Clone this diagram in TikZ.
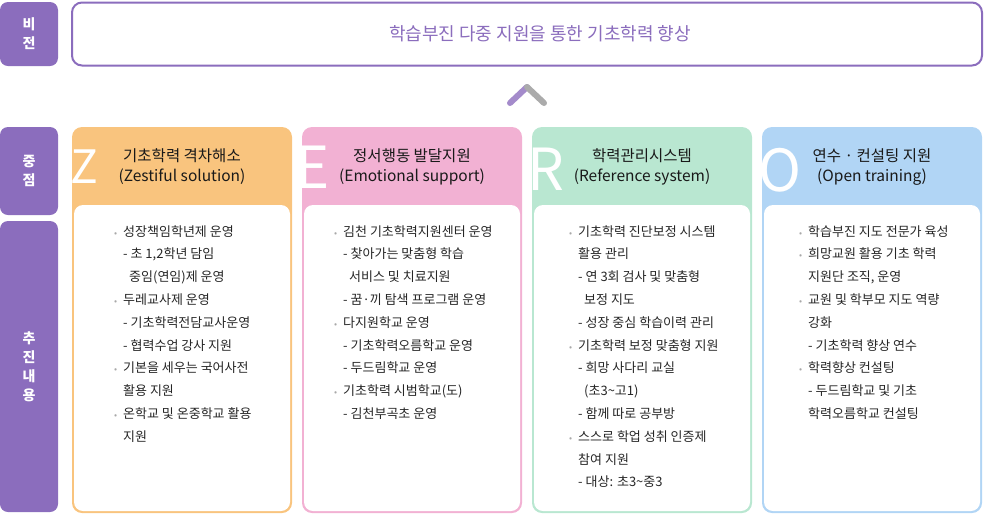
\documentclass[tikz,border=0pt]{standalone}
\usepackage{fontspec}
\setmainfont{Noto Sans CJK KR}

\definecolor{vpurple}{HTML}{8B6DBD}
\definecolor{zorange}{HTML}{F9C47E}
\definecolor{epink}{HTML}{F2B1D3}
\definecolor{rgreen}{HTML}{B9E7D1}
\definecolor{oblue}{HTML}{B1D5F5}
\definecolor{txtgray}{HTML}{262626}
\definecolor{dotgray}{HTML}{A8A8A8}
\definecolor{chevpurple}{HTML}{A48BCB}
\definecolor{chevgray}{HTML}{ABABAB}

\newcommand{\itemdot}{\makebox[0pt][r]{\textcolor{dotgray}{\fontsize{9}{9}\selectfont •}\hspace{6pt}}}
\newcommand{\moreline}{\hspace*{6pt}}

\tikzset{
    labelbox/.style={fill=vpurple, rounded corners=8pt, minimum width=58pt, inner sep=0pt,
        text=white, align=center, font=\fontsize{14}{19}\selectfont\bfseries},
    visionbox/.style={draw=vpurple, line width=2pt, fill=white, rounded corners=10pt, inner sep=0pt},
    visiontext/.style={text=vpurple, font=\fontsize{18}{20}\selectfont, inner sep=0pt},
    chevron/.style={line width=6pt, line cap=round},
    colframe/.style={rounded corners=10pt, minimum width=220pt, minimum height=386pt, inner sep=0pt},
    colbody/.style={fill=white, rounded corners=9pt, minimum width=216pt, minimum height=306pt, inner sep=0pt},
    headline/.style={align=center, text=black!90, font=\fontsize{15.5}{20}\selectfont, inner sep=0pt},
    bigchar/.style={anchor=base west, text=white, inner sep=0pt},
    itemlist/.style={anchor=north west, align=left, inner sep=0pt, text=txtgray,
        font=\fontsize{13}{22.8}\selectfont}
}

\begin{document}
\begin{tikzpicture}[x=1pt, y=-1pt]
    \useasboundingbox (0,0) rectangle (984,515);

    % labels on the left
    \node[labelbox, minimum height=64pt] (vlab) at (29,34) {비\\전};
    \node[labelbox, minimum height=88pt] (flab) at (29,171) {중\\점};
    \node[labelbox, minimum height=291pt] (plab) at (29,366.5) {추\\진\\내\\용};

    % vision
    \node[visionbox, minimum width=910pt, minimum height=63pt] (vision) at (527,34) {};
    \node[visiontext] (vtext) at (540,34) {학습부진 다중 지원을 통한 기초학력 향상};

    \coordinate (chevl) at (510,103);
    \coordinate (chevt) at (527,87);
    \coordinate (chevr) at (544,103);
    \draw[chevron, draw=chevpurple] (chevl) -- (chevt);
    \draw[chevron, draw=chevgray] (chevt) -- (chevr);

    % columns
    \node[colframe, fill=zorange] (zcol) at (182,320) {};
    \node[colframe, fill=epink] (ecol) at (412,320) {};
    \node[colframe, fill=rgreen] (rcol) at (642,320) {};
    \node[colframe, fill=oblue] (ocol) at (872,320) {};

    \node[colbody] (zbody) at (182,358) {};
    \node[colbody] (ebody) at (412,358) {};
    \node[colbody] (rbody) at (642,358) {};
    \node[colbody] (obody) at (872,358) {};

    % big letters
    \begin{scope}
        \clip (72,127) rectangle (292,205);
        \node[bigchar, font=\fontsize{46}{46}\selectfont] (zlet) at (70,183) {Z};
    \end{scope}
    \begin{scope}
        \clip (302,127) rectangle (522,205);
        \node[bigchar, font=\fontsize{58}{58}\selectfont] (elet) at (295,188) {E};
    \end{scope}
    \begin{scope}
        \clip (532,127) rectangle (752,205);
        \node[bigchar, font=\fontsize{58}{58}\selectfont] (rlet) at (527,190) {R};
    \end{scope}
    \begin{scope}
        \clip (762,127) rectangle (982,205);
        \node[bigchar, font=\fontsize{58}{58}\selectfont] (olet) at (758,191) {O};
    \end{scope}

    % headers
    \node[headline] (zhead) at (182,167) {기초학력 격차해소\\(Zestiful solution)};
    \node[headline] (ehead) at (412,167) {정서행동 발달지원\\(Emotional support)};
    \node[headline] (rhead) at (642,167) {학력관리시스템\\(Reference system)};
    \node[headline] (ohead) at (872,167) {연수 · 컨설팅 지원\\(Open training)};

    % contents
    \node[itemlist] (zlist) at (123,225) {%
        \itemdot 성장책임학년제 운영\\
        - 초 1,2학년 담임\\
        \moreline 중임(연임)제 운영\\
        \itemdot 두레교사제 운영\\
        - 기초학력전담교사운영\\
        - 협력수업 강사 지원\\
        \itemdot 기본을 세우는 국어사전\\
        활용 지원\\
        \itemdot 온학교 및 온중학교 활용\\
        지원};
    \node[itemlist] (elist) at (343,225) {%
        \itemdot 김천 기초학력지원센터 운영\\
        - 찾아가는 맞춤형 학습\\
        \moreline 서비스 및 치료지원\\
        - 꿈·끼 탐색 프로그램 운영\\
        \itemdot 다지원학교 운영\\
        - 기초학력오름학교 운영\\
        - 두드림학교 운영\\
        \itemdot 기초학력 시범학교(도)\\
        - 김천부곡초 운영};
    \node[itemlist] (rlist) at (578,225) {%
        \itemdot 기초학력 진단보정 시스템\\
        활용 관리\\
        - 연 3회 검사 및 맞춤형\\
        \moreline 보정 지도\\
        - 성장 중심 학습이력 관리\\
        \itemdot 기초학력 보정 맞춤형 지원\\
        - 희망 사다리 교실\\
        \moreline (초3\textasciitilde 고1)\\
        - 함께 따로 공부방\\
        \itemdot 스스로 학업 성취 인증제\\
        참여 지원\\
        - 대상: 초3\textasciitilde 중3};
    \node[itemlist] (olist) at (808,225) {%
        \itemdot 학습부진 지도 전문가 육성\\
        \itemdot 희망교원 활용 기초 학력\\
        지원단 조직, 운영\\
        \itemdot 교원 및 학부모 지도 역량\\
        강화\\
        - 기초학력 향상 연수\\
        \itemdot 학력향상 컨설팅\\
        - 두드림학교 및 기초\\
        학력오름학교 컨설팅};
\end{tikzpicture}
\end{document}
